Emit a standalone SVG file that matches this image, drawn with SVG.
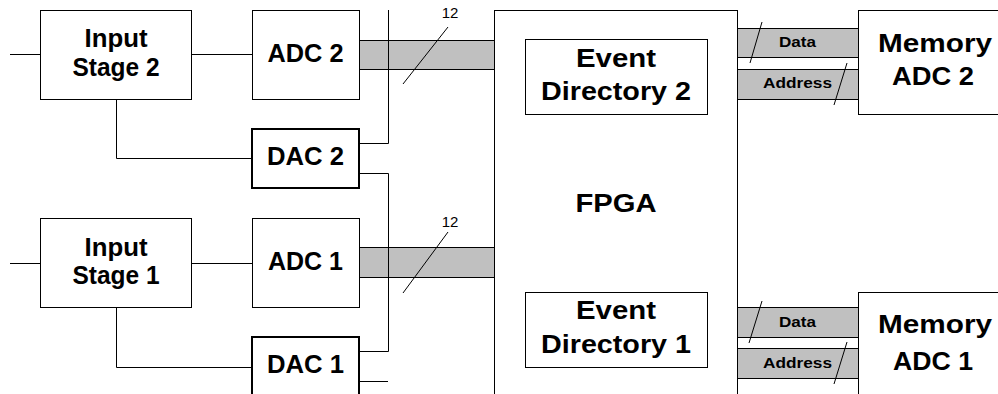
<svg xmlns="http://www.w3.org/2000/svg" width="998" height="394" viewBox="0 0 998 394">
<style>
.box{fill:#fff;stroke:#000;stroke-width:1}
.dac{fill:#fff;stroke:#000;stroke-width:2}
.bus{fill:#c0c0c0;stroke:#000;stroke-width:1}
.ln{fill:none;stroke:#000;stroke-width:1}
.t{font-family:"Liberation Sans",Arial,sans-serif;font-weight:bold;font-size:25px;text-anchor:middle;fill:#000}
.tb{font-size:26.5px}
.ts{font-family:"Liberation Sans",Arial,sans-serif;font-weight:bold;font-size:15px;text-anchor:middle;fill:#000}
.tn{font-family:"Liberation Sans",Arial,sans-serif;font-size:15px;text-anchor:middle;fill:#000}
</style>
<rect width="998" height="394" fill="#fff"/>
<g id="fpga"><rect class="box" x="494.5" y="10.5" width="243" height="400"/><text class="t tb" x="616" y="212" textLength="81" lengthAdjust="spacingAndGlyphs">FPGA</text></g>
<g id="input2"><rect class="box" x="40.5" y="10.5" width="151" height="89"/><text class="t" x="116" y="47" textLength="63" lengthAdjust="spacingAndGlyphs">Input</text><text class="t" x="116" y="76" textLength="87" lengthAdjust="spacingAndGlyphs">Stage 2</text></g>
<g id="adc2"><rect class="box" x="252.5" y="10.5" width="107" height="89"/><text class="t" x="305.5" y="62" textLength="76" lengthAdjust="spacingAndGlyphs">ADC 2</text></g>
<g id="dac2"><rect class="dac" x="252" y="129" width="107" height="59"/><text class="t" x="305.5" y="165" textLength="77" lengthAdjust="spacingAndGlyphs">DAC 2</text></g>
<g id="input1"><rect class="box" x="40.5" y="218.5" width="151" height="89"/><text class="t" x="116" y="256" textLength="63" lengthAdjust="spacingAndGlyphs">Input</text><text class="t" x="116" y="284" textLength="87" lengthAdjust="spacingAndGlyphs">Stage 1</text></g>
<g id="adc1"><rect class="box" x="252.5" y="218.5" width="107" height="89"/><text class="t" x="305.5" y="270" textLength="75" lengthAdjust="spacingAndGlyphs">ADC 1</text></g>
<g id="dac1"><rect class="dac" x="252" y="337" width="107" height="70"/><text class="t" x="305.5" y="373" textLength="77" lengthAdjust="spacingAndGlyphs">DAC 1</text></g>
<g id="evdir2"><rect class="box" x="525.5" y="39.5" width="182" height="75"/><text class="t" x="616" y="67" textLength="80" lengthAdjust="spacingAndGlyphs">Event</text><text class="t" x="616" y="100" textLength="150" lengthAdjust="spacingAndGlyphs">Directory 2</text></g>
<g id="evdir1"><rect class="box" x="525.5" y="292.5" width="182" height="75"/><text class="t" x="616" y="319" textLength="80" lengthAdjust="spacingAndGlyphs">Event</text><text class="t" x="616" y="353" textLength="150" lengthAdjust="spacingAndGlyphs">Directory 1</text></g>
<g id="mem2"><rect class="box" x="858.5" y="10.5" width="160" height="104"/><text class="t tb" x="935" y="52" textLength="114" lengthAdjust="spacingAndGlyphs">Memory</text><text class="t tb" x="933" y="85" textLength="82" lengthAdjust="spacingAndGlyphs">ADC 2</text></g>
<g id="mem1"><rect class="box" x="858.5" y="292.5" width="160" height="120"/><text class="t tb" x="935" y="333" textLength="114" lengthAdjust="spacingAndGlyphs">Memory</text><text class="t tb" x="933" y="370" textLength="80" lengthAdjust="spacingAndGlyphs">ADC 1</text></g>
<g id="connectors">
<rect class="bus" x="359.5" y="40.5" width="135" height="29"/>
<rect class="bus" x="359.5" y="247.5" width="135" height="30"/>
<rect class="bus" x="737.5" y="28.5" width="121" height="29"/>
<rect class="bus" x="737.5" y="69.5" width="121" height="30"/>
<rect class="bus" x="737.5" y="307.5" width="121" height="30"/>
<rect class="bus" x="737.5" y="348.5" width="121" height="30"/>
<path class="ln" d="M10 54.5H40M191 54.5H252M116.5 99V158.5H252M359 143.5H388.5V10M359 173.5H388.5V351.5H359M359 381.5H388M10 263.5H40M191 263.5H252M116.5 307V367.5H252"/>
<path class="ln" d="M403 84L448 27M403 293L448 232M750 63L762 22M834 105L847 63M749 343L762 301M834 384L847 342"/>
<text class="tn" x="450" y="18">12</text>
<text class="tn" x="450" y="227">12</text>
<text class="ts" x="797.5" y="47" textLength="37" lengthAdjust="spacingAndGlyphs">Data</text>
<text class="ts" x="797.5" y="88" textLength="69" lengthAdjust="spacingAndGlyphs">Address</text>
<text class="ts" x="797.5" y="327" textLength="37" lengthAdjust="spacingAndGlyphs">Data</text>
<text class="ts" x="797.5" y="368" textLength="69" lengthAdjust="spacingAndGlyphs">Address</text>
</g>
</svg>
